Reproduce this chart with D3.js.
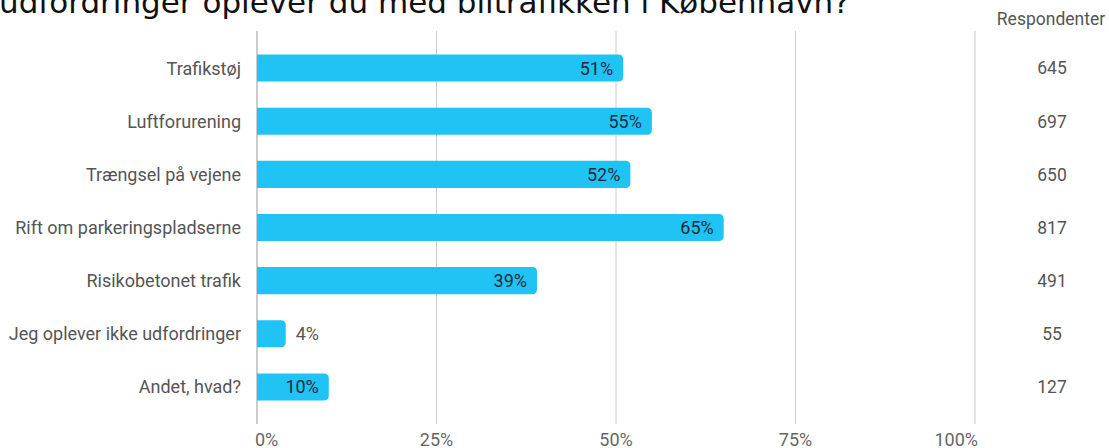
<!DOCTYPE html>
<html>
<head>
<meta charset="utf-8">
<script src="https://cdn.jsdelivr.net/npm/d3@7"></script>
<style>
  html, body { margin: 0; padding: 0; background: #fff; overflow: hidden; }
  svg { display: block; }
</style>
</head>
<body>
<div id="chart"></div>
<script>
// data
var categories = ["Trafikstøj", "Luftforurening", "Trængsel på vejene", "Rift om parkeringspladserne",
                  "Risikobetonet trafik", "Jeg oplever ikke udfordringer", "Andet, hvad?"];
var percentages = [51, 55, 52, 65, 39, 4, 10];
var respondents = [645, 697, 650, 817, 491, 55, 127];
var tickValues = [0, 25, 50, 75, 100];
var titleText = "udfordringer oplever du med biltrafikken i København?";

var W = 1109, H = 448;
var svg = d3.select("#chart").append("svg")
  .attr("width", W).attr("height", H);

var x = d3.scaleLinear().domain([0, 100]).range([257, 975]);
var y = d3.scaleBand().domain(categories).range([41.5, 413.5]).paddingInner(0.49).paddingOuter(0.245);

// title (cropped at the top, like the original)
svg.append("text")
  .attr("x", -1).attr("y", 13)
  .style("font-family", "DejaVu Sans")
  .style("font-size", "31px")
  .style("fill", "#111")
  .text(titleText);

// gridlines
svg.append("g").selectAll("line")
  .data(tickValues)
  .enter().append("line")
  .attr("x1", function(d) { return x(d); })
  .attr("x2", function(d) { return x(d); })
  .attr("y1", 31).attr("y2", 424)
  .style("stroke", function(d) { return d === 0 ? "#999" : "#ccc"; })
  .style("stroke-width", 1);

// tick labels: first starts at its line, last ends at its line
svg.append("g").selectAll("text")
  .data(tickValues)
  .enter().append("text")
  .attr("x", function(d, i) { return i === 0 ? x(d) - 2 : (i === tickValues.length - 1 ? x(d) + 3 : x(d)); })
  .attr("y", 446)
  .attr("text-anchor", function(d, i) { return i === 0 ? "start" : (i === tickValues.length - 1 ? "end" : "middle"); })
  .style("font-family", "Roboto")
  .style("font-size", "18px")
  .style("fill", "#666")
  .text(function(d) { return d + "%"; });

// bars, rounded on the right end only
var r = 5;
function barPath(d, i) {
  var x0 = x(0), x1 = x(d), y0 = y(categories[i]), h = y.bandwidth();
  var rr = Math.min(r, (x1 - x0) / 2);
  return "M" + x0 + "," + y0 +
    "H" + (x1 - rr) +
    "Q" + x1 + "," + y0 + " " + x1 + "," + (y0 + rr) +
    "V" + (y0 + h - rr) +
    "Q" + x1 + "," + (y0 + h) + " " + (x1 - rr) + "," + (y0 + h) +
    "H" + x0 + "Z";
}

svg.append("g").selectAll("path")
  .data(percentages)
  .enter().append("path")
  .attr("d", barPath)
  .style("fill", "#20c4f4");

// bar value labels
svg.append("g").selectAll("text")
  .data(percentages)
  .enter().append("text")
  .attr("x", function(d) { return d < 8 ? x(d) + 10 : x(d) - 10; })
  .attr("y", function(d, i) { return y(categories[i]) + y.bandwidth() / 2; })
  .attr("dy", "0.36em")
  .attr("text-anchor", function(d) { return d < 8 ? "start" : "end"; })
  .style("font-family", "Roboto")
  .style("font-size", "18px")
  .style("fill", function(d) { return d < 8 ? "#555" : "#1b2b3c"; })
  .text(function(d) { return d + "%"; });

// category labels
svg.append("g").selectAll("text")
  .data(categories)
  .enter().append("text")
  .attr("x", 241)
  .attr("y", function(d) { return y(d) + y.bandwidth() / 2; })
  .attr("dy", "0.36em")
  .attr("text-anchor", "end")
  .style("font-family", "Roboto")
  .style("font-size", "18px")
  .style("fill", "#555")
  .text(function(d) { return d; });

// respondents column
svg.append("text")
  .attr("x", 1051).attr("y", 25)
  .attr("text-anchor", "middle")
  .style("font-family", "Roboto")
  .style("font-size", "17.5px")
  .style("fill", "#555")
  .text("Respondenter");

svg.append("g").selectAll("text")
  .data(respondents)
  .enter().append("text")
  .attr("x", 1052)
  .attr("y", function(d, i) { return y(categories[i]) + y.bandwidth() / 2; })
  .attr("dy", "0.36em")
  .attr("text-anchor", "middle")
  .style("font-family", "Roboto")
  .style("font-size", "17.5px")
  .style("fill", "#555")
  .text(function(d) { return d; });
</script>
</body>
</html>
